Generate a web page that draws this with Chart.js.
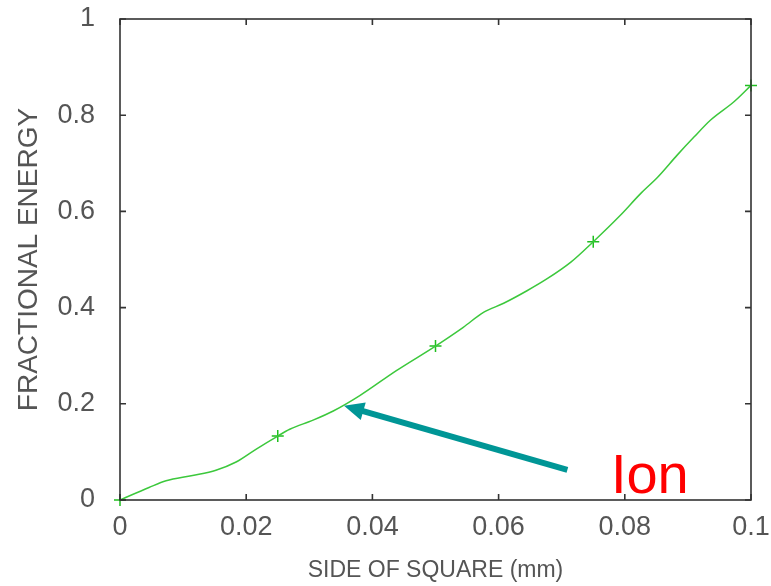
<!DOCTYPE html>
<html>
<head>
<meta charset="utf-8">
<script src="https://cdn.jsdelivr.net/npm/chart.js@4.4.1/dist/chart.umd.min.js"></script>
<style>
  body { margin: 0; background: #fff; }
  canvas { display: block; }
</style>
</head>
<body>
<canvas id="energy" width="771" height="586"></canvas>
<script>
// curve (side of square in mm, fractional energy)
const sideMm = [0, 0.0046, 0.0073, 0.0115, 0.0152, 0.0184, 0.0216, 0.025, 0.0269, 0.0306,
  0.0338, 0.038, 0.0438, 0.05, 0.0544, 0.0576, 0.0608, 0.0645, 0.0677, 0.0714,
  0.075, 0.0793, 0.0825, 0.0852, 0.0883, 0.091, 0.0936, 0.0973, 0.1];
const energy = [0, 0.026, 0.04, 0.051, 0.062, 0.079, 0.106, 0.133, 0.147, 0.166,
  0.185, 0.217, 0.269, 0.32, 0.359, 0.39, 0.409, 0.435, 0.46, 0.494,
  0.537, 0.592, 0.637, 0.671, 0.717, 0.755, 0.79, 0.828, 0.862];

// '+' markers
const markerSide = [0, 0.025, 0.05, 0.075, 0.1];
const markerEnergy = [0, 0.133, 0.32, 0.537, 0.862];

const xTicks = [0, 0.02, 0.04, 0.06, 0.08, 0.1];
const yTicks = [0, 0.2, 0.4, 0.6, 0.8, 1];

// annotation: arrow from label to the curve
const ionLabel = 'Ion';
const ionAt = [0.0778, 0.0146];
const arrowFrom = [0.0709, 0.0625];
const arrowTo = [0.0355, 0.196];

let ctx = document.getElementById('energy').getContext('2d');
const tickFont = { family: 'Liberation Sans', size: 27 };
const axisColor = '#333';
const fmt = (v) => String(+v.toFixed(2));

// box round the plot with short inward ticks on all four sides
const frame = {
  id: 'frame',
  afterDraw(chart) {
    const c = chart.ctx;
    const a = chart.chartArea;
    const x = chart.scales.x;
    const y = chart.scales.y;
    c.save();
    c.strokeStyle = axisColor;
    c.lineWidth = 1.6;
    c.strokeRect(a.left, a.top, a.right - a.left, a.bottom - a.top);
    c.beginPath();
    x.ticks.forEach((t) => {
      let px = x.getPixelForValue(t.value);
      c.moveTo(px, a.bottom); c.lineTo(px, a.bottom - 6);
      c.moveTo(px, a.top); c.lineTo(px, a.top + 6);
    });
    y.ticks.forEach((t) => {
      let py = y.getPixelForValue(t.value);
      c.moveTo(a.left, py); c.lineTo(a.left + 6, py);
      c.moveTo(a.right, py); c.lineTo(a.right - 6, py);
    });
    c.stroke();
    c.restore();
  },
};

const annotation = {
  id: 'annotation',
  afterDatasetsDraw(chart) {
    const c = chart.ctx;
    const x = chart.scales.x;
    const y = chart.scales.y;
    let x0 = x.getPixelForValue(arrowFrom[0]), y0 = y.getPixelForValue(arrowFrom[1]);
    let x1 = x.getPixelForValue(arrowTo[0]), y1 = y.getPixelForValue(arrowTo[1]);
    let ang = Math.atan2(y1 - y0, x1 - x0);
    let head = 20, half = 9;
    let bx = x1 - head * Math.cos(ang), by = y1 - head * Math.sin(ang);
    c.save();
    c.strokeStyle = '#009696';
    c.fillStyle = '#009696';
    c.lineWidth = 6;
    c.beginPath();
    c.moveTo(x0, y0);
    c.lineTo(bx + 2 * Math.cos(ang), by + 2 * Math.sin(ang));
    c.stroke();
    c.beginPath();
    c.moveTo(x1, y1);
    c.lineTo(bx + half * Math.sin(ang), by - half * Math.cos(ang));
    c.lineTo(bx - half * Math.sin(ang), by + half * Math.cos(ang));
    c.closePath();
    c.fill();
    c.fillStyle = '#ff0000';
    c.font = '56px "Liberation Sans"';
    c.textBaseline = 'alphabetic';
    c.fillText(ionLabel, x.getPixelForValue(ionAt[0]), y.getPixelForValue(ionAt[1]));
    c.restore();
  },
};

new Chart(ctx, {
  type: 'line',
  data: {
    datasets: [
      {
        data: sideMm.map((v, i) => ({ x: v, y: energy[i] })),
        borderColor: '#3cc83c',
        borderWidth: 1.5,
        pointRadius: 0,
        cubicInterpolationMode: 'monotone',
      },
      {
        type: 'scatter',
        data: markerSide.map((v, i) => ({ x: v, y: markerEnergy[i] })),
        pointStyle: 'cross',
        pointRadius: 6,
        borderColor: '#1fbf1f',
        borderWidth: 1.5,
        showLine: false,
        clip: false,
      },
    ],
  },
  options: {
    responsive: false,
    animation: false,
    layout: { padding: { top: 19, right: 20, left: 0, bottom: 0 } },
    plugins: { legend: { display: false }, tooltip: { enabled: false } },
    scales: {
      x: {
        type: 'linear',
        min: 0,
        max: 0.1,
        afterFit: (scale) => {
          scale.height = 86;
          scale.paddingLeft = 0;
          scale.paddingRight = 0;
        },
        afterBuildTicks: (scale) => { scale.ticks = xTicks.map((v) => ({ value: v })); },
        grid: { display: false },
        border: { display: false },
        ticks: { font: tickFont, color: '#555', padding: 3, maxRotation: 0, callback: fmt },
        title: {
          display: true,
          text: 'SIDE OF SQUARE (mm)',
          font: { family: 'Liberation Sans', size: 23 },
          color: '#555',
          padding: { top: 0, bottom: 2 },
        },
      },
      y: {
        type: 'linear',
        min: 0,
        max: 1,
        afterFit: (scale) => {
          scale.width = 120;
          scale.paddingTop = 0;
          scale.paddingBottom = 0;
        },
        afterBuildTicks: (scale) => { scale.ticks = yTicks.map((v) => ({ value: v })); },
        grid: { display: false },
        border: { display: false },
        ticks: { font: tickFont, color: '#555', padding: 17, callback: fmt },
        title: {
          display: true,
          text: 'FRACTIONAL ENERGY',
          font: { family: 'Liberation Sans', size: 28 },
          color: '#555',
          padding: { top: 12, bottom: 0 },
        },
      },
    },
  },
  plugins: [frame, annotation],
});
</script>
</body>
</html>
